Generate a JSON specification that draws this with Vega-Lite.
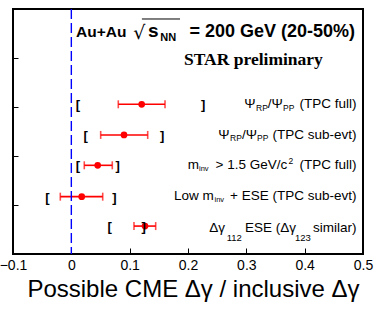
{
  "$schema": "https://vega.github.io/schema/vega-lite/v6.json",
  "width": 350,
  "height": 245,
  "autosize": {"type": "none"},
  "padding": {"left": 13, "top": 9, "right": 19, "bottom": 57},
  "background": "white",
  "config": {
    "view": {"stroke": "black", "strokeWidth": 2},
    "font": "Liberation Sans"
  },
  "datasets": {
    "pts": [
      {"y": 3.055, "v": 0.1206, "lo": 0.0805, "hi": 0.1606, "slo": 0.010, "shi": 0.227},
      {"y": 2.43, "v": 0.0903, "lo": 0.0503, "hi": 0.1309, "slo": 0.0234, "shi": 0.157},
      {"y": 1.81, "v": 0.0452, "lo": 0.0222, "hi": 0.0702, "slo": 0.010, "shi": 0.0805},
      {"y": 1.17, "v": 0.0178, "lo": -0.0189, "hi": 0.0538, "slo": -0.042, "shi": 0.0749},
      {"y": 0.57, "v": 0.1263, "lo": 0.1074, "hi": 0.1446, "slo": 0.0646, "shi": 0.125}
    ],
    "zero": [{"x": 0}],
    "bar": [{"x": 0.121, "x2": 0.1863, "y": 4.796}],
    "txt": [
      {"r": "au", "x": 0.008, "y": 4.422, "t": "Au+Au"},
      {"r": "rad", "x": 0.1062, "y": 4.422, "t": "√"},
      {"r": "ttl", "x": 0.1314, "y": 4.422, "t": "s"},
      {"r": "ttlSub", "x": 0.1526, "y": 4.357, "t": "NN"},
      {"r": "ttlR", "x": 0.4863, "y": 4.422, "t": "= 200 GeV (20-50%)"},
      {"r": "star", "x": 0.1931, "y": 3.851, "t": "STAR preliminary"},
      {"r": "lab", "x": 0.2965, "y": 2.973, "t": "Ψ"},
      {"r": "sub", "x": 0.3166, "y": 2.922, "t": "RP"},
      {"r": "lab", "x": 0.3368, "y": 2.973, "t": "/Ψ"},
      {"r": "sub", "x": 0.3629, "y": 2.922, "t": "PP"},
      {"r": "labR", "x": 0.4889, "y": 2.973, "t": "(TPC full)"},
      {"r": "lab", "x": 0.252, "y": 2.347, "t": "Ψ"},
      {"r": "sub", "x": 0.272, "y": 2.296, "t": "RP"},
      {"r": "lab", "x": 0.2926, "y": 2.347, "t": "/Ψ"},
      {"r": "sub", "x": 0.3183, "y": 2.296, "t": "PP"},
      {"r": "labR", "x": 0.4889, "y": 2.347, "t": "(TPC sub-evt)"},
      {"r": "lab", "x": 0.1995, "y": 1.735, "t": "m"},
      {"r": "inv", "x": 0.2188, "y": 1.684, "t": "inv"},
      {"r": "labR", "x": 0.3702, "y": 1.735, "t": "> 1.5 GeV/c"},
      {"r": "sub", "x": 0.3723, "y": 1.837, "t": "2"},
      {"r": "labR", "x": 0.4889, "y": 1.735, "t": "(TPC full)"},
      {"r": "lab", "x": 0.176, "y": 1.112, "t": "Low m"},
      {"r": "inv", "x": 0.2454, "y": 1.061, "t": "inv"},
      {"r": "labR", "x": 0.4889, "y": 1.112, "t": "+ ESE (TPC sub-evt)"},
      {"r": "lab", "x": 0.2365, "y": 0.449, "t": "Δγ"},
      {"r": "sub9", "x": 0.2664, "y": 0.265, "t": "112"},
      {"r": "lab", "x": 0.2977, "y": 0.449, "t": "ESE (Δγ"},
      {"r": "sub9", "x": 0.3834, "y": 0.265, "t": "123"},
      {"r": "labR", "x": 0.4889, "y": 0.449, "t": "similar)"}
    ]
  },
  "layer": [
    {
      "data": {"name": "pts"},
      "mark": {"type": "rule", "color": "#ff0000", "strokeWidth": 1.6},
      "encoding": {
        "x": {
          "field": "lo", "type": "quantitative",
          "scale": {"domain": [-0.1, 0.5], "nice": false, "zero": false},
          "axis": {
            "values": [-0.1, -0.05, 0, 0.05, 0.1, 0.15, 0.2, 0.25, 0.3, 0.35, 0.4, 0.45, 0.5],
            "domain": false, "grid": false,
            "tickColor": "black", "tickWidth": 1,
            "tickSize": {"condition": {"test": "abs(datum.value*10 - round(datum.value*10)) < 0.001", "value": -6}, "value": -3},
            "labelExpr": "abs(datum.value) < 0.001 ? '0' : (abs(datum.value*10 - round(datum.value*10)) < 0.001 ? format(datum.value, '.1f') : '')",
            "labelOverlap": false, "labelFlush": false, "labelBound": false,
            "labelFont": "Liberation Sans", "labelFontSize": 14, "labelColor": "black",
            "labelPadding": 10, "labelBaseline": "top",
            "title": "Possible CME Δγ / inclusive Δγ",
            "titleFont": "Liberation Sans", "titleFontSize": 24, "titleFontWeight": "normal",
            "titleColor": "black", "titleX": 180, "titleY": 42, "titleBaseline": "alphabetic", "titleAlign": "center", "titleAnchor": null
          }
        },
        "x2": {"field": "hi"},
        "y": {
          "field": "y", "type": "quantitative",
          "scale": {"domain": [0, 5], "nice": false, "zero": false},
          "axis": {"values": [1, 2, 3, 4], "labels": false, "domain": false, "grid": false, "tickSize": -5, "tickColor": "black", "tickWidth": 1, "title": null}
        }
      }
    },
    {
      "data": {"name": "zero"},
      "mark": {"type": "rule", "color": "#0000ff", "strokeWidth": 1.4, "strokeDash": [10, 4]},
      "encoding": {
        "x": {"field": "x", "type": "quantitative", "scale": {"domain": [-0.1, 0.5], "nice": false, "zero": false}}
      }
    },
    {
      "data": {"name": "pts"},
      "mark": {"type": "tick", "orient": "vertical", "color": "#ff0000", "size": 8, "thickness": 1.6},
      "encoding": {
        "x": {"field": "lo", "type": "quantitative", "scale": {"domain": [-0.1, 0.5], "nice": false, "zero": false}},
        "y": {"field": "y", "type": "quantitative", "scale": {"domain": [0, 5], "nice": false, "zero": false}}
      }
    },
    {
      "data": {"name": "pts"},
      "mark": {"type": "tick", "orient": "vertical", "color": "#ff0000", "size": 8, "thickness": 1.6},
      "encoding": {
        "x": {"field": "hi", "type": "quantitative", "scale": {"domain": [-0.1, 0.5], "nice": false, "zero": false}},
        "y": {"field": "y", "type": "quantitative", "scale": {"domain": [0, 5], "nice": false, "zero": false}}
      }
    },
    {
      "data": {"name": "pts"},
      "mark": {"type": "circle", "color": "#ff0000", "size": 45, "opacity": 1},
      "encoding": {
        "x": {"field": "v", "type": "quantitative", "scale": {"domain": [-0.1, 0.5], "nice": false, "zero": false}},
        "y": {"field": "y", "type": "quantitative", "scale": {"domain": [0, 5], "nice": false, "zero": false}}
      }
    },
    {
      "data": {"name": "pts"},
      "mark": {"type": "text", "text": "[", "align": "left", "baseline": "middle", "fontWeight": "bold", "fontSize": 13, "color": "black", "dx": -1.5, "dy": 1},
      "encoding": {
        "x": {"field": "slo", "type": "quantitative", "scale": {"domain": [-0.1, 0.5], "nice": false, "zero": false}},
        "y": {"field": "y", "type": "quantitative", "scale": {"domain": [0, 5], "nice": false, "zero": false}}
      }
    },
    {
      "data": {"name": "pts"},
      "mark": {"type": "text", "text": "]", "align": "right", "baseline": "middle", "fontWeight": "bold", "fontSize": 13, "color": "black", "dx": 1.5, "dy": 1},
      "encoding": {
        "x": {"field": "shi", "type": "quantitative", "scale": {"domain": [-0.1, 0.5], "nice": false, "zero": false}},
        "y": {"field": "y", "type": "quantitative", "scale": {"domain": [0, 5], "nice": false, "zero": false}}
      }
    },
    {
      "data": {"name": "bar"},
      "mark": {"type": "rule", "color": "black", "strokeWidth": 1},
      "encoding": {
        "x": {"field": "x", "type": "quantitative", "scale": {"domain": [-0.1, 0.5], "nice": false, "zero": false}},
        "x2": {"field": "x2"},
        "y": {"field": "y", "type": "quantitative", "scale": {"domain": [0, 5], "nice": false, "zero": false}}
      }
    },
    {
      "data": {"name": "txt"},
      "transform": [{"filter": "datum.r == 'au'"}],
      "mark": {"type": "text", "align": "left", "baseline": "alphabetic", "fontWeight": "bold", "fontSize": 15.5, "font": "Liberation Sans", "color": "black"},
      "encoding": {
        "x": {"field": "x", "type": "quantitative", "scale": {"domain": [-0.1, 0.5], "nice": false, "zero": false}},
        "y": {"field": "y", "type": "quantitative", "scale": {"domain": [0, 5], "nice": false, "zero": false}},
        "text": {"field": "t"}
      }
    },
    {
      "data": {"name": "txt"},
      "transform": [{"filter": "datum.r == 'ttl'"}],
      "mark": {"type": "text", "align": "left", "baseline": "alphabetic", "fontWeight": "bold", "fontSize": 19, "font": "Liberation Sans", "color": "black"},
      "encoding": {
        "x": {"field": "x", "type": "quantitative", "scale": {"domain": [-0.1, 0.5], "nice": false, "zero": false}},
        "y": {"field": "y", "type": "quantitative", "scale": {"domain": [0, 5], "nice": false, "zero": false}},
        "text": {"field": "t"}
      }
    },
    {
      "data": {"name": "txt"},
      "transform": [{"filter": "datum.r == 'ttlR'"}],
      "mark": {"type": "text", "align": "right", "baseline": "alphabetic", "fontWeight": "bold", "fontSize": 18, "font": "Liberation Sans", "color": "black"},
      "encoding": {
        "x": {"field": "x", "type": "quantitative", "scale": {"domain": [-0.1, 0.5], "nice": false, "zero": false}},
        "y": {"field": "y", "type": "quantitative", "scale": {"domain": [0, 5], "nice": false, "zero": false}},
        "text": {"field": "t"}
      }
    },
    {
      "data": {"name": "txt"},
      "transform": [{"filter": "datum.r == 'ttlSub'"}],
      "mark": {"type": "text", "align": "left", "baseline": "alphabetic", "fontWeight": "bold", "fontSize": 11, "font": "Liberation Sans", "color": "black"},
      "encoding": {
        "x": {"field": "x", "type": "quantitative", "scale": {"domain": [-0.1, 0.5], "nice": false, "zero": false}},
        "y": {"field": "y", "type": "quantitative", "scale": {"domain": [0, 5], "nice": false, "zero": false}},
        "text": {"field": "t"}
      }
    },
    {
      "data": {"name": "txt"},
      "transform": [{"filter": "datum.r == 'rad'"}],
      "mark": {"type": "text", "align": "left", "baseline": "alphabetic", "fontSize": 19, "font": "DejaVu Sans", "color": "black", "dy": 2},
      "encoding": {
        "x": {"field": "x", "type": "quantitative", "scale": {"domain": [-0.1, 0.5], "nice": false, "zero": false}},
        "y": {"field": "y", "type": "quantitative", "scale": {"domain": [0, 5], "nice": false, "zero": false}},
        "text": {"field": "t"}
      }
    },
    {
      "data": {"name": "txt"},
      "transform": [{"filter": "datum.r == 'star'"}],
      "mark": {"type": "text", "align": "left", "baseline": "alphabetic", "fontWeight": "bold", "fontSize": 17.5, "font": "Liberation Serif", "color": "black"},
      "encoding": {
        "x": {"field": "x", "type": "quantitative", "scale": {"domain": [-0.1, 0.5], "nice": false, "zero": false}},
        "y": {"field": "y", "type": "quantitative", "scale": {"domain": [0, 5], "nice": false, "zero": false}},
        "text": {"field": "t"}
      }
    },
    {
      "data": {"name": "txt"},
      "transform": [{"filter": "datum.r == 'lab'"}],
      "mark": {"type": "text", "align": "left", "baseline": "alphabetic", "fontSize": 13.5, "font": "Liberation Sans", "color": "black"},
      "encoding": {
        "x": {"field": "x", "type": "quantitative", "scale": {"domain": [-0.1, 0.5], "nice": false, "zero": false}},
        "y": {"field": "y", "type": "quantitative", "scale": {"domain": [0, 5], "nice": false, "zero": false}},
        "text": {"field": "t"}
      }
    },
    {
      "data": {"name": "txt"},
      "transform": [{"filter": "datum.r == 'labR'"}],
      "mark": {"type": "text", "align": "right", "baseline": "alphabetic", "fontSize": 13.5, "font": "Liberation Sans", "color": "black"},
      "encoding": {
        "x": {"field": "x", "type": "quantitative", "scale": {"domain": [-0.1, 0.5], "nice": false, "zero": false}},
        "y": {"field": "y", "type": "quantitative", "scale": {"domain": [0, 5], "nice": false, "zero": false}},
        "text": {"field": "t"}
      }
    },
    {
      "data": {"name": "txt"},
      "transform": [{"filter": "datum.r == 'sub'"}],
      "mark": {"type": "text", "align": "left", "baseline": "alphabetic", "fontSize": 8.5, "font": "Liberation Sans", "color": "black"},
      "encoding": {
        "x": {"field": "x", "type": "quantitative", "scale": {"domain": [-0.1, 0.5], "nice": false, "zero": false}},
        "y": {"field": "y", "type": "quantitative", "scale": {"domain": [0, 5], "nice": false, "zero": false}},
        "text": {"field": "t"}
      }
    },
    {
      "data": {"name": "txt"},
      "transform": [{"filter": "datum.r == 'inv'"}],
      "mark": {"type": "text", "align": "left", "baseline": "alphabetic", "fontSize": 7.5, "font": "Liberation Sans", "color": "black"},
      "encoding": {
        "x": {"field": "x", "type": "quantitative", "scale": {"domain": [-0.1, 0.5], "nice": false, "zero": false}},
        "y": {"field": "y", "type": "quantitative", "scale": {"domain": [0, 5], "nice": false, "zero": false}},
        "text": {"field": "t"}
      }
    },
    {
      "data": {"name": "txt"},
      "transform": [{"filter": "datum.r == 'sub9'"}],
      "mark": {"type": "text", "align": "left", "baseline": "alphabetic", "fontSize": 9.5, "font": "Liberation Sans", "color": "black"},
      "encoding": {
        "x": {"field": "x", "type": "quantitative", "scale": {"domain": [-0.1, 0.5], "nice": false, "zero": false}},
        "y": {"field": "y", "type": "quantitative", "scale": {"domain": [0, 5], "nice": false, "zero": false}},
        "text": {"field": "t"}
      }
    }
  ]
}
